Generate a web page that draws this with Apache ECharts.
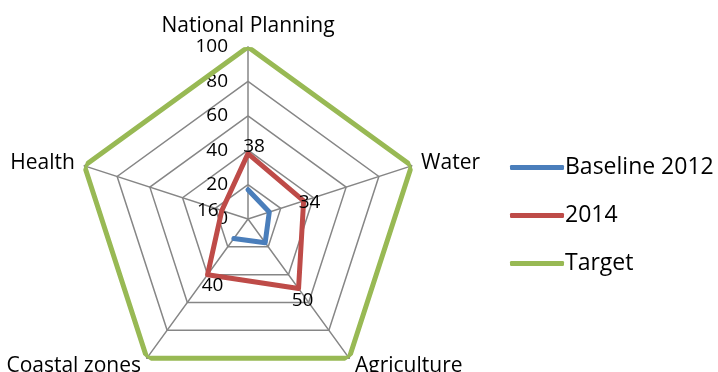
<!DOCTYPE html>
<html>
<head>
<meta charset="utf-8">
<script src="https://cdn.jsdelivr.net/npm/echarts@6/dist/echarts.min.js"></script>
<style>
    html, body { margin: 0; padding: 0; background: #fff; }
    #chart { width: 718px; height: 372px; }
</style>
</head>
<body>
<div id="chart"></div>
<script>
const categories = ["National Planning", "Water", "Agriculture", "Coastal zones", "Health"];
const baseline2012 = [17, 13, 17, 14, null];
const values2014 = [38, 34, 50, 40, 16];
const target = [100, 100, 100, 100, 100];

const fontFamily = "'Open Sans', 'Noto Sans', sans-serif";
const gridColor = "#868686";
// where each 2014 value label sits relative to its point
const labelOffsets2014 = [[6, -7], [6, 2], [4, 12], [5, 11], [-14, 0]];

// polygon points on the polar system (angle = category slot), closed at 360
function toPolar(values, offsets) {
    const step = 360 / categories.length;
    const pts = values.map((v, i) => {
        const item = { value: [v == null ? "-" : v, i * step] };
        if (offsets) {
            item.label = { show: true, position: "inside", offset: offsets[i] };
        }
        return item;
    });
    if (values[0] != null) {
        pts.push({ value: [values[0], 360], label: { show: false } });
    }
    return pts;
}

const center = [248, 219];
const radius = 172;

// radar lays indicators out counter-clockwise, the polar axis goes clockwise
const radarOrder = [categories[0]].concat(categories.slice(1).reverse());

const chart = echarts.init(document.getElementById("chart"), null, { renderer: "canvas" });

const lineBase = {
    type: "line",
    coordinateSystem: "polar",
    clip: false,
    symbol: "none",
    lineStyle: { width: 5, join: "round", cap: "round" },
};

chart.setOption({
    animation: false,
    textStyle: { fontFamily: fontFamily, color: "#000" },
    legend: {
        orient: "vertical",
        left: 505,
        top: 151,
        itemGap: 25,
        itemWidth: 54,
        itemHeight: 5,
        icon: "roundRect",
        data: ["Baseline 2012", "2014", "Target"],
        textStyle: { fontFamily: fontFamily, fontSize: 23, color: "#000", padding: [0, 0, 0, -4] },
    },
    radar: {
        center: center,
        radius: radius,
        startAngle: 90,
        shape: "polygon",
        splitNumber: 5,
        nameGap: 10,
        axisName: { color: "#000", fontFamily: fontFamily, fontSize: 21 },
        axisLine: { lineStyle: { color: gridColor, width: 1.5 } },
        splitLine: { lineStyle: { color: gridColor, width: 1.5 } },
        splitArea: { show: false },
        axisTick: { show: false },
        axisLabel: { show: false },
        indicator: radarOrder.map((name, i) => ({
            name: name,
            min: 0,
            max: 100,
            axisLabel: i === 0
                ? { show: true, color: "#000", fontFamily: fontFamily, fontSize: 19, margin: 20 }
                : { show: false },
        })),
    },
    polar: {
        center: center,
        radius: radius,
    },
    angleAxis: {
        type: "value",
        min: 0,
        max: 360,
        startAngle: 90,
        clockwise: true,
        axisLine: { show: false },
        axisTick: { show: false },
        axisLabel: { show: false },
        splitLine: { show: false },
    },
    radiusAxis: {
        type: "value",
        min: 0,
        max: 100,
        axisLine: { show: false },
        axisTick: { show: false },
        axisLabel: { show: false },
        splitLine: { show: false },
    },
    series: [
        Object.assign({}, lineBase, {
            name: "Baseline 2012",
            color: "#4a7ebb",
            data: toPolar(baseline2012),
        }),
        Object.assign({}, lineBase, {
            name: "2014",
            color: "#be4b48",
            symbol: "circle",
            symbolSize: 1,
            label: {
                color: "#000",
                fontFamily: fontFamily,
                fontSize: 19,
                formatter: p => p.value[0],
            },
            data: toPolar(values2014, labelOffsets2014),
        }),
        Object.assign({}, lineBase, {
            name: "Target",
            color: "#98b954",
            data: toPolar(target),
        }),
    ],
});
</script>
</body>
</html>
